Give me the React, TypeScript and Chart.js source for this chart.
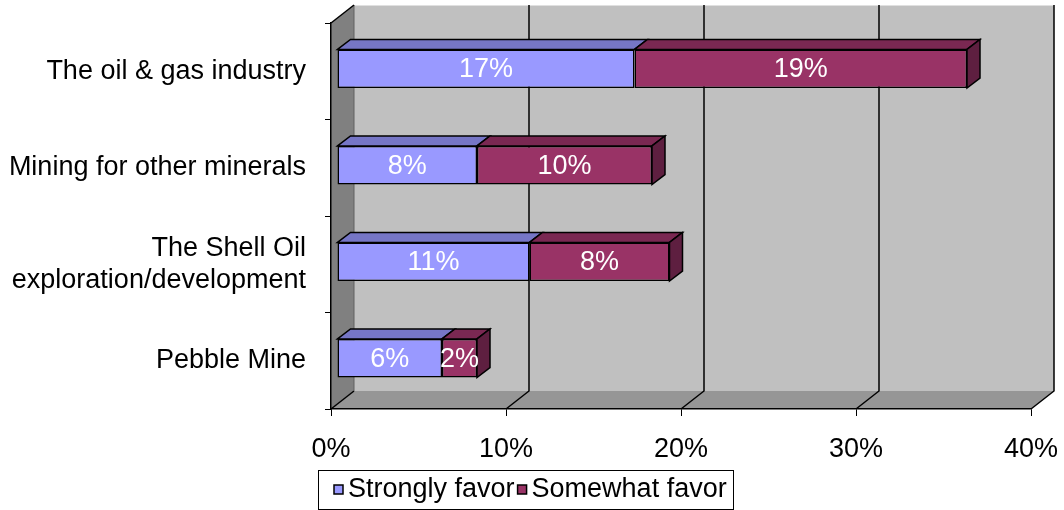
import React, { useEffect, useRef } from 'react';
import { Chart, registerables } from 'chart.js';

Chart.register(...registerables);

// ---------- data ----------
const categories: (string | string[])[] = [
  'The oil & gas industry',
  'Mining for other minerals',
  ['The Shell Oil', 'exploration/development'],
  'Pebble Mine',
];
const seriesNames = ['Strongly favor', 'Somewhat favor'];
const stronglyFavor = [17, 8, 11, 6];
const somewhatFavor = [19, 10, 8, 2];
const xTickValues = [0, 10, 20, 30, 40];

// ---------- styles ----------
const FONT = "'Liberation Sans', Arial, Helvetica, sans-serif";
const FONT_SIZE = 27;
const frontColors = ['#9999FF', '#993366'];
const topColors = ['#7676C6', '#7A2852'];
const sideColors = ['#5C5C99', '#5E1F40'];
const WALL = { dx: 23, dy: -18 };
const BAR = { ox: 6, oy: -2.5, dx: 13, dy: -10 };

function poly(ctx: CanvasRenderingContext2D, pts: number[][], fill: string | null, stroke: string | null, lw = 1.5) {
  ctx.beginPath();
  ctx.moveTo(pts[0][0], pts[0][1]);
  for (let i = 1; i < pts.length; i++) ctx.lineTo(pts[i][0], pts[i][1]);
  ctx.closePath();
  if (fill) {
    ctx.fillStyle = fill;
    ctx.fill();
  }
  if (stroke) {
    ctx.strokeStyle = stroke;
    ctx.lineWidth = lw;
    ctx.lineJoin = 'miter';
    ctx.stroke();
  }
}

const threeD = {
  id: 'threeD',
  beforeDraw(chart: any) {
    const { ctx, chartArea } = chart;
    const { left: L, top: T, right: R, bottom: B } = chartArea;
    const xs = chart.scales.x;
    const { dx, dy } = WALL;
    ctx.save();
    // back wall
    ctx.fillStyle = '#C0C0C0';
    ctx.fillRect(L + dx, T + dy, R - L, B - T);
    // top light edge of back wall
    ctx.strokeStyle = '#E0E0E0';
    ctx.lineWidth = 1;
    ctx.beginPath();
    ctx.moveTo(L + dx, T + dy + 0.5);
    ctx.lineTo(R + dx, T + dy + 0.5);
    ctx.stroke();
    // side wall
    poly(ctx, [[L, T], [L + dx, T + dy], [L + dx, B + dy], [L, B]], '#808080', null);
    // floor
    poly(ctx, [[L, B], [L + dx, B + dy], [R + dx, B + dy], [R, B]], '#969696', null);
    // gridlines on back wall + floor
    ctx.strokeStyle = '#000';
    ctx.lineWidth = 1.5;
    xTickValues.forEach((v) => {
      const px = xs.getPixelForValue(v);
      ctx.beginPath();
      if (v !== 0) ctx.moveTo(px + dx, T + dy);
      else ctx.moveTo(px + dx, B + dy);
      ctx.lineTo(px + dx, B + dy);
      ctx.lineTo(px, B);
      ctx.stroke();
    });
    // inner edge of side wall
    ctx.strokeStyle = '#606060';
    ctx.lineWidth = 1;
    ctx.beginPath();
    ctx.moveTo(L + dx, T + dy);
    ctx.lineTo(L + dx, B + dy);
    ctx.stroke();
    // top diagonal of side wall
    ctx.strokeStyle = '#000';
    ctx.lineWidth = 1.5;
    ctx.beginPath();
    ctx.moveTo(L, T);
    ctx.lineTo(L + dx, T + dy);
    ctx.stroke();
    ctx.restore();
  },
  beforeDatasetsDraw(chart: any) {
    chart.ctx.save();
    chart.ctx.translate(BAR.ox, BAR.oy);
  },
  afterDatasetsDraw(chart: any) {
    const ctx = chart.ctx as CanvasRenderingContext2D;
    const n = chart.data.datasets.length;
    const { dx, dy } = BAR;
    for (let di = 0; di < n; di++) {
      const meta = chart.getDatasetMeta(di);
      meta.data.forEach((el: any) => {
        const { x, y, base, height } = el.getProps(['x', 'y', 'base', 'height'], true);
        const x0 = Math.min(base, x);
        const x1 = Math.max(base, x);
        const yT = y - height / 2;
        const yB = y + height / 2;
        poly(ctx, [[x0, yT], [x0 + dx, yT + dy], [x1 + dx, yT + dy], [x1, yT]], topColors[di], '#000');
        if (di === n - 1) {
          poly(ctx, [[x1, yT], [x1 + dx, yT + dy], [x1 + dx, yB + dy], [x1, yB]], sideColors[di], '#000');
        }
      });
    }
    // value labels
    ctx.fillStyle = '#FFFFFF';
    ctx.font = `${FONT_SIZE}px ${FONT}`;
    ctx.textAlign = 'center';
    ctx.textBaseline = 'middle';
    for (let di = 0; di < n; di++) {
      const meta = chart.getDatasetMeta(di);
      const vals = chart.data.datasets[di].data as number[];
      meta.data.forEach((el: any, i: number) => {
        const { x, y, base } = el.getProps(['x', 'y', 'base'], true);
        ctx.fillText(`${vals[i]}%`, (x + base) / 2, y + 1);
      });
    }
    ctx.restore();
  },
  afterDraw(chart: any) {
    const ctx = chart.ctx as CanvasRenderingContext2D;
    const boxX = 318;
    const boxY = 470;
    const boxW = 415;
    const boxH = 39;
    ctx.save();
    ctx.strokeStyle = '#000';
    ctx.lineWidth = 1;
    ctx.strokeRect(boxX + 0.5, boxY + 0.5, boxW, boxH);
    ctx.font = `${FONT_SIZE}px ${FONT}`;
    ctx.textBaseline = 'middle';
    ctx.textAlign = 'left';
    let cx = 334;
    const cy = boxY + 20;
    chart.data.datasets.forEach((ds: any, di: number) => {
      ctx.fillStyle = frontColors[di];
      ctx.fillRect(cx, cy - 5, 9, 9);
      ctx.strokeStyle = '#000';
      ctx.lineWidth = 1.5;
      ctx.strokeRect(cx, cy - 5, 9, 9);
      ctx.fillStyle = '#000';
      ctx.fillText(ds.label, cx + 14, cy);
      cx += 14 + ctx.measureText(ds.label).width + 3;
    });
    ctx.restore();
  },
};

export default function App() {
  const canvasRef = useRef<HTMLCanvasElement | null>(null);

  useEffect(() => {
    document.body.style.margin = '0';
    const canvas = canvasRef.current;
    if (!canvas) return;
    const chart = new Chart(canvas, {
      type: 'bar',
      data: {
        labels: categories,
        datasets: [
          {
            label: seriesNames[0],
            data: stronglyFavor,
            backgroundColor: frontColors[0],
            borderColor: '#000',
            borderWidth: 1.5,
            borderSkipped: false,
          },
          {
            label: seriesNames[1],
            data: somewhatFavor,
            backgroundColor: frontColors[1],
            borderColor: '#000',
            borderWidth: 1.5,
            borderSkipped: false,
          },
        ],
      } as any,
      options: {
        indexAxis: 'y',
        responsive: false,
        animation: false,
        events: [],
        clip: false as any,
        devicePixelRatio: 1,
        barPercentage: 0.4,
        categoryPercentage: 1,
        layout: { padding: { left: 0, top: 23, right: 33, bottom: 41 } },
        plugins: {
          legend: { display: false },
          tooltip: { enabled: false },
        },
        scales: {
          x: {
            stacked: true,
            min: 0,
            max: 40,
            afterFit: (s: any) => {
              s.height = 60;
              s.paddingLeft = 0;
              s.paddingRight = 0;
              s.paddingTop = 0;
              s.paddingBottom = 0;
            },
            afterBuildTicks: (s: any) => {
              s.ticks = xTickValues.map((v) => ({ value: v }));
            },
            ticks: {
              callback: (v: any) => `${v}%`,
              color: '#000',
              font: { family: FONT, size: FONT_SIZE },
              padding: 17,
              maxRotation: 0,
            },
            grid: {
              display: true,
              drawOnChartArea: false,
              drawTicks: true,
              tickLength: 7,
              color: '#000',
              lineWidth: 1,
            },
            border: { display: true, color: '#000', width: 1.5 },
          },
          y: {
            stacked: true,
            afterFit: (s: any) => {
              s.width = 331;
              s.paddingLeft = 0;
              s.paddingRight = 0;
              s.paddingTop = 0;
              s.paddingBottom = 0;
            },
            ticks: {
              color: '#000',
              font: { family: FONT, size: FONT_SIZE, lineHeight: 1.2 },
              padding: 19,
            },
            grid: {
              display: true,
              offset: true,
              drawOnChartArea: false,
              drawTicks: true,
              tickLength: 6,
              color: '#000',
              lineWidth: 1,
            },
            border: { display: true, color: '#000', width: 1.5 },
          },
        },
      } as any,
      plugins: [threeD],
    });
    return () => chart.destroy();
  }, []);

  return (
    <div style={{ width: 1064, height: 510, position: 'relative' }}>
      <canvas ref={canvasRef} width={1064} height={510} style={{ display: 'block' }} />
    </div>
  );
}
